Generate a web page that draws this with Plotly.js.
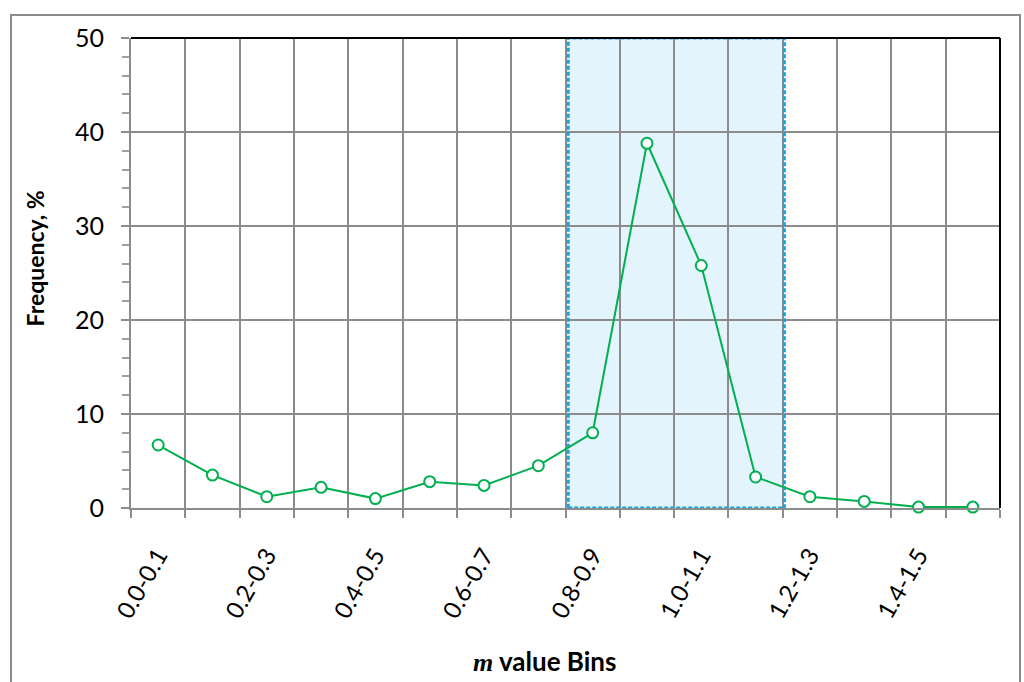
<!DOCTYPE html>
<html>
<head>
<meta charset="utf-8">
<script src="https://cdn.plot.ly/plotly-3.0.1.min.js"></script>
<style>
  html, body { margin: 0; padding: 0; background: #fff; }
  #wrap { position: relative; width: 1024px; height: 682px; }
  #chart { width: 1024px; height: 682px; }
  #frame { position: absolute; left: 10px; top: 14px; width: 1011px; height: 680px;
           border: 2px solid #8c8c8c; box-sizing: border-box; pointer-events: none; }
</style>
</head>
<body>
<div id="wrap">
  <div id="chart"></div>
  <div id="frame"></div>
</div>
<script>
// m-value bins and their frequency (%)
const bins = ["0.0-0.1","0.1-0.2","0.2-0.3","0.3-0.4","0.4-0.5","0.5-0.6","0.6-0.7","0.7-0.8",
              "0.8-0.9","0.9-1.0","1.0-1.1","1.1-1.2","1.2-1.3","1.3-1.4","1.4-1.5","1.5-1.6"];
const frequency = [6.7, 3.5, 1.2, 2.2, 1.0, 2.8, 2.4, 4.5, 8.0, 38.8, 25.8, 3.3, 1.2, 0.7, 0.1, 0.1];
// only every other bin is labelled on the axis
const binLabels = bins.map((b, i) => (i % 2 === 0 ? b : ""));
// highlighted range of bins
const bandStart = "0.8-0.9";
const bandEnd = "1.1-1.2";

const iStart = bins.indexOf(bandStart) - 0.5;
const iEnd = bins.indexOf(bandEnd) + 0.5;

const FONT = "Lato, 'Open Sans', sans-serif";

const trace = {
  x: bins,
  y: frequency,
  type: "scatter",
  mode: "lines+markers",
  line: { color: "#00b050", width: 2 },
  marker: { symbol: "circle", size: 11, color: "#ffffff", line: { color: "#00b050", width: 2 } },
  cliponaxis: false,
  hoverinfo: "x+y"
};

const layout = {
  width: 1024,
  height: 682,
  margin: { l: 131, r: 24, t: 38, b: 174 },
  paper_bgcolor: "#ffffff",
  plot_bgcolor: "#ffffff",
  showlegend: false,
  font: { family: FONT, color: "#000" },
  xaxis: {
    type: "category",
    range: [-0.5, bins.length - 0.5],
    tickmode: "array",
    tickvals: bins,
    ticktext: binLabels,
    tickson: "boundaries",
    ticks: "outside",
    ticklen: 8,
    tickwidth: 2,
    tickcolor: "#8c8c8c",
    tickangle: -60,
    ticklabelstandoff: 22,
    tickfont: { size: 24, color: "#000", family: FONT },
    showgrid: true,
    gridcolor: "#8c8c8c",
    gridwidth: 2,
    showline: true,
    linecolor: "#8c8c8c",
    linewidth: 2,
    zeroline: false,
    fixedrange: true
  },
  yaxis: {
    range: [0, 50],
    tick0: 0,
    dtick: 10,
    ticks: "outside",
    ticklen: 8,
    tickwidth: 2,
    tickcolor: "#8c8c8c",
    ticklabelstandoff: 12,
    tickfont: { size: 25, color: "#000", family: FONT },
    minor: { dtick: 2, ticks: "outside", ticklen: 7, tickwidth: 2, tickcolor: "#a0a0a0", showgrid: false },
    showgrid: true,
    gridcolor: "#8c8c8c",
    gridwidth: 2,
    showline: true,
    linecolor: "#8c8c8c",
    linewidth: 2,
    zeroline: false,
    fixedrange: true
  },
  shapes: [
    // shaded band behind the grid
    { type: "rect", xref: "x", yref: "y", x0: iStart, x1: iEnd, y0: 0, y1: 50,
      fillcolor: "#e3f4fc", line: { width: 0 }, layer: "below" },
    // dotted outline of the band
    { type: "rect", xref: "x", yref: "y", x0: iStart + 0.05, x1: iEnd + 0.03, y0: 0, y1: 50,
      fillcolor: "rgba(0,0,0,0)", line: { color: "#14a3e3", width: 3, dash: "4px,2px" }, layer: "between" },
    // black top and right borders of the plot area
    { type: "line", xref: "paper", yref: "paper", x0: 0, x1: 1, y0: 1, y1: 1,
      line: { color: "#000", width: 2 }, layer: "above" },
    { type: "line", xref: "paper", yref: "paper", x0: 1, x1: 1, y0: 0, y1: 1,
      line: { color: "#000", width: 2 }, layer: "above" }
  ],
  annotations: [
    { text: "Frequency, %", xref: "paper", yref: "paper", x: -0.111, y: 0.53,
      xanchor: "center", yanchor: "middle", textangle: -90, showarrow: false,
      font: { size: 23, color: "#000", family: FONT, weight: "bold" } },
    { text: "<span style=\"font-family:'Liberation Serif',serif;font-style:italic\">m</span> value Bins",
      xref: "paper", yref: "paper", x: 0.476, y: -0.326,
      xanchor: "center", yanchor: "middle", showarrow: false,
      font: { size: 26, color: "#000", family: FONT, weight: "bold" } }
  ]
};

Plotly.newPlot("chart", [trace], layout, { staticPlot: true, displayModeBar: false });
</script>
</body>
</html>
